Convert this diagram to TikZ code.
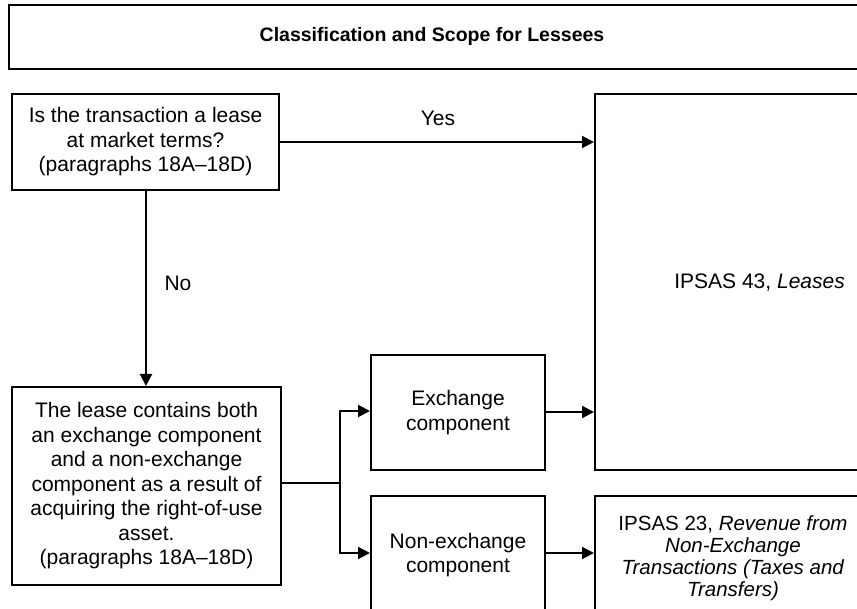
\documentclass[tikz,border=0pt]{standalone}
\usepackage{fontspec}
\setmainfont{Liberation Sans}
\usetikzlibrary{arrows.meta}
\begin{document}
\begin{tikzpicture}[x=1pt,y=-1pt,
  box/.style={draw,line width=2pt,rectangle,inner sep=0pt,align=center,
    font=\fontsize{21}{24.5}\selectfont},
  conn/.style={line width=2pt,-{Triangle[length=12pt,width=12pt]}},
  plain/.style={line width=2pt},
  lbl/.style={font=\fontsize{21}{24.5}\selectfont,inner sep=0pt,align=center}]
\useasboundingbox (0,0) rectangle (857,609);
\clip (0,0) rectangle (857,609);
\fill[white] (0,0) rectangle (857,609);
% title
\node[box,minimum width=852pt,minimum height=64pt,anchor=north west] (title) at (8,4) {};
\node[lbl,font=\bfseries\fontsize{19.5}{24}\selectfont] (tt) at (432,36) {Classification and Scope for Lessees};
% question
\node[box,minimum width=267pt,minimum height=96pt,anchor=north west] (q) at (11,93)
  {Is the transaction a lease\\at market terms?\\(paragraphs 18A--18D)};
% lease contains
\node[box,minimum width=269pt,minimum height=198pt,anchor=north west] (lc) at (11,386)
  {The lease contains both\\an exchange component\\and a non-exchange\\component as a result of\\acquiring the right-of-use\\asset.\\(paragraphs 18A--18D)};
% exchange
\node[box,minimum width=174pt,minimum height=115pt,anchor=north west] (ex) at (370,354)
  {Exchange\\component};
% non-exchange
\node[box,minimum width=174pt,minimum height=118pt,anchor=north west] (nex) at (370,495)
  {Non-exchange\\component};
% IPSAS 43
\node[box,minimum width=404pt,minimum height=376pt,anchor=north west] (i43) at (594,93) {};
\node[lbl,anchor=east] (i43t) at (845,283) {IPSAS 43, \textit{Leases}};
% IPSAS 23
\node[box,minimum width=276pt,minimum height=124pt,anchor=north west,
  font=\fontsize{20.5}{22}\selectfont] (i23) at (594,495)
  {IPSAS 23, \textit{Revenue from}\\\textit{Non-Exchange}\\\textit{Transactions (Taxes and}\\\textit{Transfers)}};
% connectors
\draw[conn] (q.east |- 0,142) -- (i43.west |- 0,142);
\node[lbl] (yes) at (438,118) {Yes};
\draw[conn] (146,189) -- (146,386);
\node[lbl] (no) at (178,283) {No};
\coordinate (split) at (340,483);
\draw[plain] (lc.east |- split) -- (split);
\draw[conn] (split) |- (ex.west |- 0,411);
\draw[conn] (split) |- (nex.west |- 0,553);
\draw[conn] (ex.east |- 0,412) -- (i43.west |- 0,412);
\draw[conn] (nex.east |- 0,553) -- (i23.west |- 0,553);
\end{tikzpicture}
\end{document}
